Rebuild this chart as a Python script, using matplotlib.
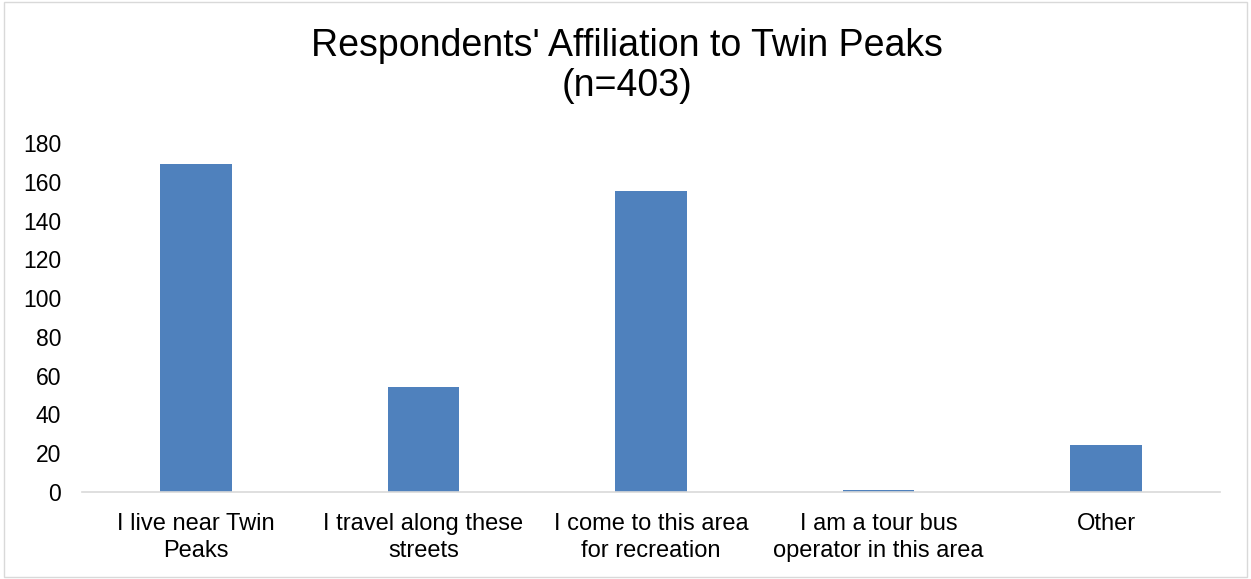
import matplotlib
matplotlib.use("Agg")
from matplotlib import pyplot as plt
from matplotlib.patches import Rectangle

# Survey responses (n=403)
categories = ["I live near Twin\nPeaks", "I travel along these\nstreets",
              "I come to this area\nfor recreation", "I am a tour bus\noperator in this area",
              "Other"]
counts = [169, 54, 155, 1, 24]
yticks = [0, 20, 40, 60, 80, 100, 120, 140, 160, 180]

plt.rcParams['font.family'] = ['Liberation Sans', 'DejaVu Sans']

fig = plt.figure(figsize=(12.51, 5.79), dpi=100)
ax = fig.add_axes([82/1251, 1 - 492/579, (1220-82)/1251, (492-143)/579])

x = range(len(categories))
ax.bar(x, counts, width=0.315, color="#4f81bd")

ax.set_xlim(-0.5, len(categories) - 0.5)
ax.set_ylim(0, 180)
ax.set_yticks(yticks)
ax.set_xticks(list(x))
ax.set_xticklabels(categories, fontsize=17, linespacing=1.28)
ax.tick_params(axis='y', labelsize=16.5, length=0, pad=15)
ax.tick_params(axis='x', length=0, pad=15)

for side in ['top', 'right', 'left']:
    ax.spines[side].set_visible(False)
ax.spines['bottom'].set_color('#d9d9d9')
ax.spines['bottom'].set_linewidth(1.2)

fig.text(627/1251, 1 - 66/579, "Respondents' Affiliation to Twin Peaks\n(n=403)",
         ha='center', va='center', fontsize=27, linespacing=1.15)

# light frame round the chart
fig.patches.append(Rectangle((4/1251, 0.003), 1 - 8/1251, 0.994, transform=fig.transFigure,
                             fill=False, edgecolor='#d9d9d9', linewidth=1))

fig.savefig("out.png", dpi=100)
